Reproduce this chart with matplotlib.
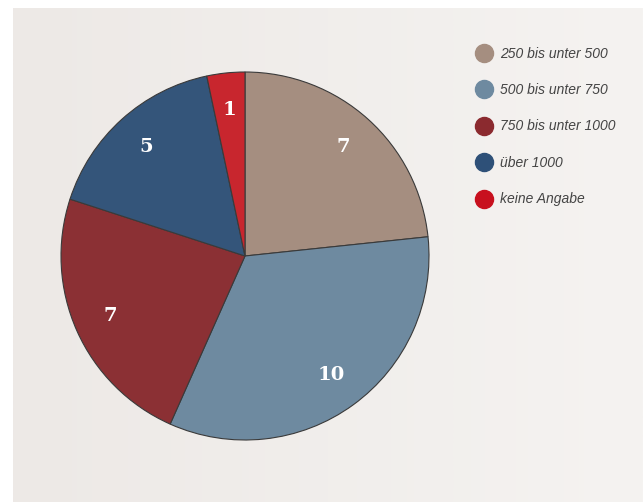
import numpy as np
import matplotlib
matplotlib.use("Agg")
import matplotlib.pyplot as plt
from matplotlib.lines import Line2D

categories = ["250 bis unter 500", "500 bis unter 750", "750 bis unter 1000",
              "über 1000", "keine Angabe"]
values = [7, 10, 7, 5, 1]
slice_colors = ["#a58e80", "#6e8aa0", "#8b3034", "#34557a", "#c8262e"]
legend_colors = ["#a58e80", "#6e8aa0", "#8b2a2f", "#2e5078", "#c8101e"]

W, H = 643, 503
fig = plt.figure(figsize=(W / 100, H / 100), dpi=100)
fig.patch.set_facecolor("white")

# panel background with a faint left-to-right lightening
bg = fig.add_axes([13 / W, 1 / H, (W - 13) / W, (H - 9) / H])
left_c = np.array([237, 233, 230]) / 255
right_c = np.array([245, 243, 241]) / 255
t = np.linspace(0, 1, 256)[None, :, None]
grad = left_c * (1 - t) + right_c * t
bg.imshow(grad, aspect="auto", extent=[0, 1, 0, 1])
bg.set_axis_off()

# pie
cx, cy, r = 245, 256, 184
ax = fig.add_axes([(cx - r) / W, (H - cy - r) / H, 2 * r / W, 2 * r / H])
wedges, texts = ax.pie(
    values, colors=slice_colors, startangle=90, counterclock=False,
    labels=[str(v) for v in values], labeldistance=0.8,
    wedgeprops=dict(edgecolor="#3a3a3a", linewidth=0.8),
    textprops=dict(color="white", fontsize=14, fontweight="bold",
                   family="DejaVu Serif", ha="center", va="center"),
)
ax.set_aspect("equal")
ax.set_xlim(-1.0, 1.0)
ax.set_ylim(-1.0, 1.0)

handles = [Line2D([], [], marker="o", linestyle="none", markersize=13,
                  markerfacecolor=c, markeredgecolor=c) for c in legend_colors]
leg = fig.legend(handles, categories, loc="upper left",
                 bbox_to_anchor=(463 / W, 1 - 34 / H), frameon=False,
                 handletextpad=0.55, labelspacing=1.62, handlelength=1.2,
                 prop=dict(family="Liberation Sans", style="italic", size=10))
for txt in leg.get_texts():
    txt.set_color("#444444")

fig.savefig("out.png", dpi=100)
